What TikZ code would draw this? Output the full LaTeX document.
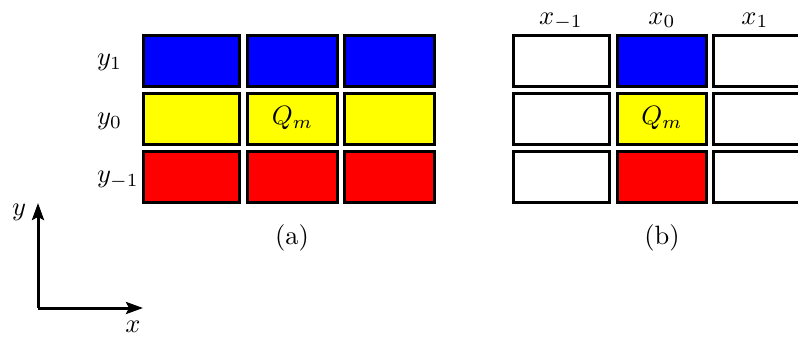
\documentclass[tikz,border=0pt]{standalone}
\usepackage{graphicx}
\usetikzlibrary{arrows.meta}
\definecolor{pureyellow}{RGB}{255,255,0}
\definecolor{pureblue}{RGB}{0,0,255}
\definecolor{purered}{RGB}{255,0,0}
\newcommand{\bigtxt}[1]{\scalebox{2.65}{#1}}
\begin{document}
\begin{tikzpicture}[x=1pt,y=-1pt,
  cell/.style={draw=black, line width=3pt, rectangle, inner sep=0pt, minimum height=51pt},
  wide/.style={cell, minimum width=96pt},
  narrow/.style={cell, minimum width=90pt},
  lbl/.style={inner sep=0pt},
  axis/.style={line width=3pt, -{Stealth[length=17pt, width=12pt, inset=3pt]}}
]
\useasboundingbox (0,0) rectangle (798,338);
% left grid (a)
\node[wide, fill=pureblue]   (a11) at (191.5,61) {};
\node[narrow, fill=pureblue] (a12) at (292.5,61) {};
\node[narrow, fill=pureblue] (a13) at (389.5,61) {};
\node[wide, fill=pureyellow]   (a21) at (191.5,118.5) {};
\node[narrow, fill=pureyellow] (a22) at (292.5,118.5) {\bigtxt{$Q_m$}};
\node[narrow, fill=pureyellow] (a23) at (389.5,118.5) {};
\node[wide, fill=purered]   (a31) at (191.5,177) {};
\node[narrow, fill=purered] (a32) at (292.5,177) {};
\node[narrow, fill=purered] (a33) at (389.5,177) {};
% row labels
\node[lbl, anchor=west] (ly1) at (97,62) {\bigtxt{$y_1$}};
\node[lbl, anchor=west] (ly0) at (97,121) {\bigtxt{$y_0$}};
\node[lbl, anchor=west] (lym) at (97,180) {\bigtxt{$y_{-1}$}};
\node[lbl, anchor=base] (la) at (292,244) {\bigtxt{(a)}};
% right grid (b)
\node[wide, fill=white]   (b11) at (561.5,61) {};
\node[narrow, fill=pureblue, minimum width=89pt] (b12) at (662,61) {};
\node[narrow, fill=white] (b13) at (758.5,61) {};
\node[wide, fill=white]   (b21) at (561.5,118.5) {};
\node[narrow, fill=pureyellow, minimum width=89pt] (b22) at (662,118.5) {\bigtxt{$Q_m$}};
\node[narrow, fill=white] (b23) at (758.5,118.5) {};
\node[wide, fill=white]   (b31) at (561.5,177) {};
\node[narrow, fill=purered, minimum width=89pt] (b32) at (662,177) {};
\node[narrow, fill=white] (b33) at (758.5,177) {};
% column labels
\node[lbl, anchor=base] (lxm) at (561,24) {\bigtxt{$x_{-1}$}};
\node[lbl, anchor=base] (lx0) at (662,24) {\bigtxt{$x_0$}};
\node[lbl, anchor=base] (lx1) at (755,24) {\bigtxt{$x_1$}};
\node[lbl, anchor=base] (lb) at (662,244) {\bigtxt{(b)}};
% axes
\coordinate (o) at (38,308);
\coordinate (ty) at (38,203);
\coordinate (tx) at (143,308);
\draw[axis] (o) -- (ty);
\draw[axis] (o) -- (tx);
\node[lbl] (ay) at (19,212) {\bigtxt{$y$}};
\node[lbl] (ax) at (133,327) {\bigtxt{$x$}};
\end{tikzpicture}
\end{document}
